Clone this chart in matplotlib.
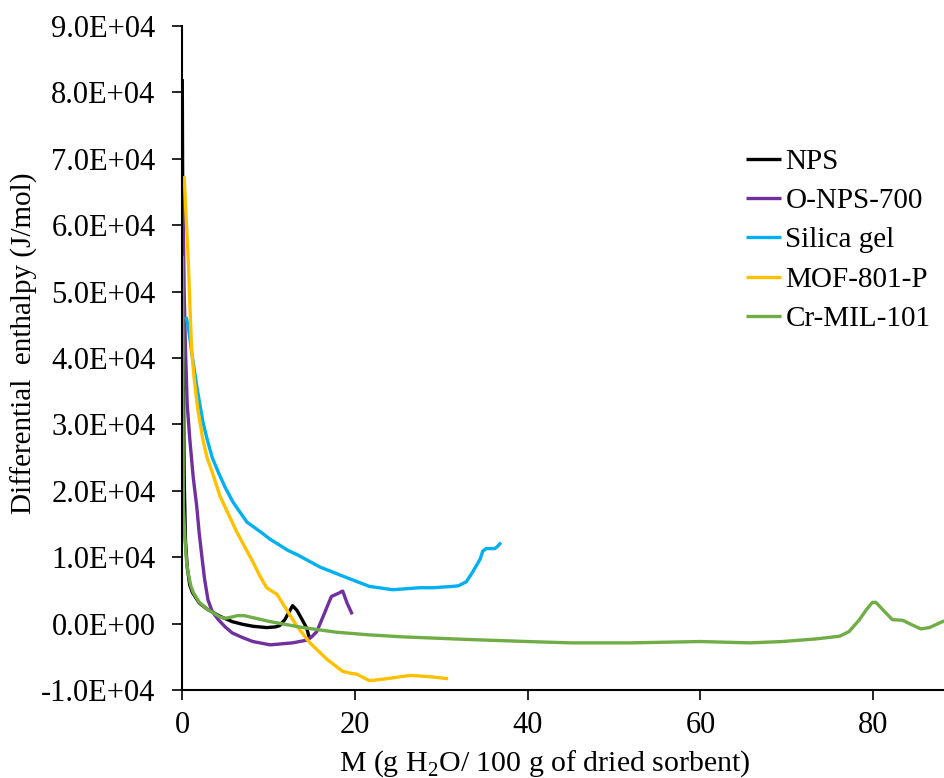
import matplotlib.pyplot as plt
from matplotlib.ticker import FuncFormatter

plt.rcParams["font.family"] = ["Liberation Serif", "DejaVu Serif"]
plt.rcParams["mathtext.fontset"] = "custom"
plt.rcParams["mathtext.rm"] = "Liberation Serif"

# water uptake (g H2O / 100 g) vs differential enthalpy (J/mol)
nps_x = [0.03, 0.08, 0.15, 0.25, 0.4, 0.6, 0.9, 1.2, 1.5, 2.0, 3.0, 4.4, 5.8, 7.0, 8.2, 9.8, 10.8, 11.3, 11.9, 12.8, 13.3, 13.9, 14.4, 14.8]
nps_y = [82000, 65000, 40000, 22000, 12500, 8500, 5800, 4700, 4100, 3100, 2100, 1100, 300, -100, -400, -600, -500, -300, 600, 2700, 2000, 600, -600, -2400]

onps_x = [0.1, 0.15, 0.25, 0.4, 0.6, 0.9, 1.3, 1.7, 2.0, 2.3, 2.6, 3.0, 3.5, 4.2, 5.0, 5.8, 7.0, 8.2, 10.2, 12.8, 14.4, 15.0, 15.6, 16.5, 17.0, 17.3, 18.0, 18.6, 19.1, 19.7]
onps_y = [67000, 60000, 50000, 41400, 33000, 27800, 22000, 17700, 13500, 10100, 6800, 3600, 1800, 600, -500, -1400, -2100, -2700, -3200, -2900, -2500, -2000, -1200, 1600, 3200, 4100, 4500, 4900, 3100, 1400]

silica_x = [0.46, 0.7, 1.1, 1.8, 2.4, 2.9, 3.5, 4.2, 5.0, 5.9, 7.5, 9.1, 10.2, 12.3, 13.3, 15.0, 16.0, 19.1, 21.7, 24.4, 27.5, 29.0, 31.3, 32.0, 32.9, 33.6, 34.5, 34.8, 35.2, 36.2, 36.5, 36.9]
silica_y = [46200, 45000, 41000, 35000, 30500, 27800, 25000, 22800, 20500, 18300, 15300, 13800, 12700, 11000, 10400, 9200, 8500, 6900, 5600, 5100, 5400, 5400, 5600, 5700, 6300, 7700, 9700, 10900, 11300, 11300, 11600, 12200]

mof_x = [0.25, 0.73, 1.1, 1.4, 1.8, 2.4, 2.9, 3.5, 4.4, 5.0, 6.3, 7.2, 8.2, 9.0, 9.8, 11.0, 12.1, 13.3, 14.8, 16.8, 18.6, 19.6, 20.2, 21.7, 23.7, 26.4, 28.7, 30.8]
mof_y = [67400, 54500, 41400, 37000, 32500, 27800, 25000, 22800, 19200, 17500, 13900, 11700, 9300, 7200, 5400, 4400, 2100, -400, -2900, -5400, -7200, -7500, -7600, -8600, -8300, -7800, -8000, -8300]

crmil_x = [0.05, 0.1, 0.15, 0.35, 0.55, 0.7, 1.0, 1.3, 2.0, 3.0, 4.4, 5.0, 5.8, 6.4, 7.2, 8.2, 10.2, 14.0, 17.9, 21.7, 25.6, 33.3, 40.0, 45.0, 52.0, 60.0, 65.7, 69.5, 73.4, 76.1, 77.2, 78.4, 79.2, 79.9, 80.3, 81.1, 82.2, 83.4, 84.5, 85.5, 86.5, 88.0, 89.0]
crmil_y = [55400, 40000, 17700, 12700, 9000, 7700, 5800, 4700, 3200, 2100, 1000, 800, 1000, 1200, 1200, 900, 300, -600, -1300, -1700, -2000, -2400, -2700, -2900, -2900, -2700, -2900, -2700, -2300, -1900, -1200, 600, 2100, 3200, 3200, 2100, 600, 500, -200, -800, -600, 300, 700]

series = [
    ("NPS", nps_x, nps_y, "black"),
    ("O-NPS-700", onps_x, onps_y, "#7030A0"),
    ("Silica gel", silica_x, silica_y, "#00B0F0"),
    ("MOF-801-P", mof_x, mof_y, "#FFC000"),
    ("Cr-MIL-101", crmil_x, crmil_y, "#70AD47"),
]

fig = plt.figure(figsize=(9.45, 7.78), dpi=100)
ax = fig.add_axes([0.1926, 0.1131, 0.8074, 0.8535])

for label, xs, ys, color in series:
    ax.plot(xs, ys, color=color, lw=2.4, label=label,
            solid_joinstyle="round", solid_capstyle="butt")

ax.set_xlim(0, 88.3)
ax.set_ylim(-10000, 90000)
ax.set_xticks([0, 20, 40, 60, 80])
ax.set_yticks(range(-10000, 90001, 10000))
ax.yaxis.set_major_formatter(FuncFormatter(lambda v, pos: f"{v:.1E}"))
ax.tick_params(labelsize=22, length=7, width=1.2, direction="out", colors="black")
ax.tick_params(axis="x", pad=8)
ax.tick_params(axis="y", pad=12)

for side in ["top", "right"]:
    ax.spines[side].set_visible(False)
for side in ["left", "bottom"]:
    ax.spines[side].set_linewidth(1.5)

ax.set_xlabel(r"M (g H$_2$O/ 100 g of dried sorbent)", fontsize=21.5)
ax.xaxis.set_label_coords(0.476, -0.088)
ax.set_ylabel("Differential  enthalpy (J/mol)", fontsize=21)
ax.yaxis.set_label_coords(-0.189, 0.5226)

ax.legend(loc="upper left", bbox_to_anchor=(0.724, 0.833), frameon=False, fontsize=21,
          handlelength=1.2, handletextpad=0.15, labelspacing=0.44, borderaxespad=0)

fig.savefig("out.png", dpi=100)
